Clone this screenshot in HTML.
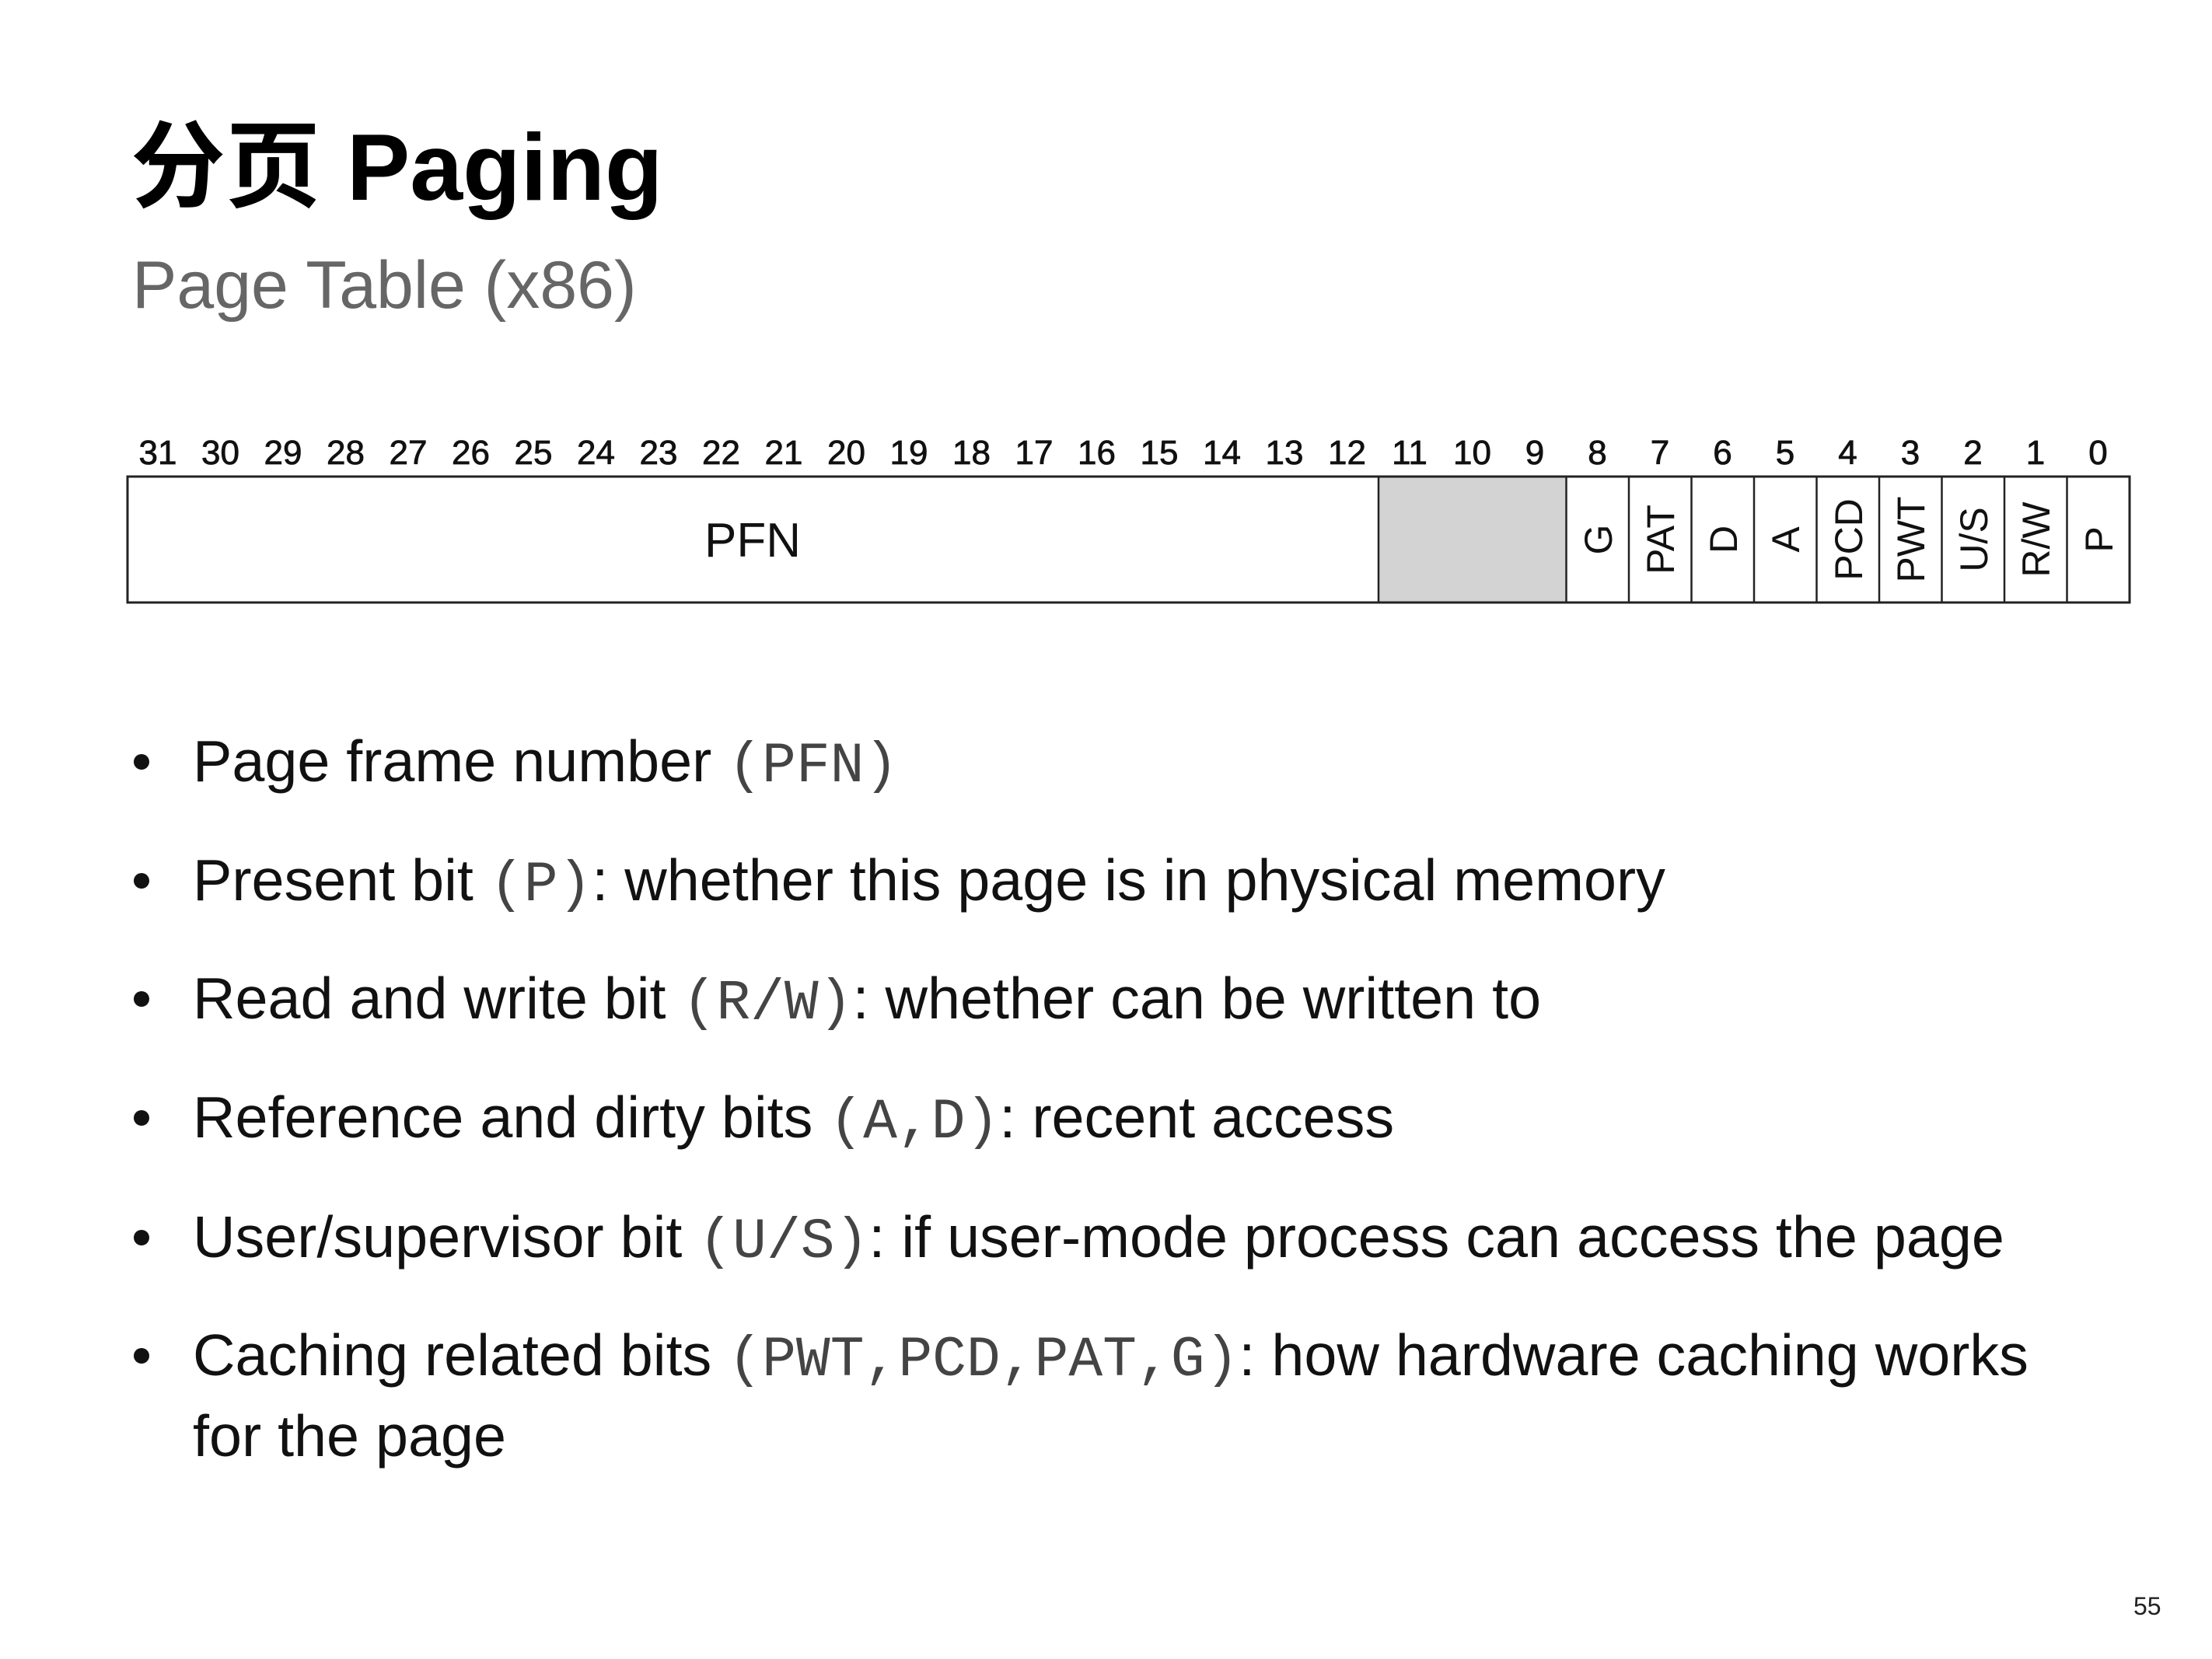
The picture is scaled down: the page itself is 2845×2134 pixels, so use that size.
<!DOCTYPE html>
<html><head><meta charset="utf-8"><style>
html,body{margin:0;padding:0;background:#fff;}
body{width:2845px;height:2134px;position:relative;overflow:hidden;font-family:"Liberation Sans","Noto Sans CJK SC",sans-serif;}
.t{position:absolute;white-space:nowrap;}
.b{position:absolute;left:248px;font-size:75.5px;color:#111;white-space:nowrap;line-height:1;}
.b code{font-family:"Liberation Mono",monospace;color:#444;font-size:73px;}
.dot{position:absolute;left:172px;width:20px;height:20px;border-radius:50%;background:#111;}
</style></head><body>
<div class="t" style="left:168px;top:116px;font-size:122px;font-weight:bold;color:#000;">分页 Paging</div>
<div class="t" style="left:170px;top:318px;font-size:86px;color:#666;">Page Table (x86)</div>
<svg style="position:absolute;left:0;top:0" width="2845" height="900" font-family="Liberation Sans, sans-serif">
<g font-size="44" text-anchor="middle" fill="#111" stroke="#111" stroke-width="0.8">
<text x="203" y="597">31</text><text x="283.5" y="597">30</text><text x="364" y="597">29</text><text x="444.5" y="597">28</text><text x="525" y="597">27</text><text x="605.5" y="597">26</text><text x="686" y="597">25</text><text x="766.5" y="597">24</text><text x="847" y="597">23</text><text x="927.5" y="597">22</text><text x="1008" y="597">21</text><text x="1088.5" y="597">20</text><text x="1169" y="597">19</text><text x="1249.5" y="597">18</text><text x="1330" y="597">17</text><text x="1410.5" y="597">16</text><text x="1491" y="597">15</text><text x="1571.5" y="597">14</text><text x="1652" y="597">13</text><text x="1732.5" y="597">12</text><text x="1813" y="597">11</text><text x="1893.5" y="597">10</text><text x="1974" y="597">9</text><text x="2054.5" y="597">8</text><text x="2135" y="597">7</text><text x="2215.5" y="597">6</text><text x="2296" y="597">5</text><text x="2376.5" y="597">4</text><text x="2457" y="597">3</text><text x="2537.5" y="597">2</text><text x="2618" y="597">1</text><text x="2698.5" y="597">0</text>
</g>
<rect x="1773" y="613" width="241.5" height="162" fill="#d3d3d3"/>
<rect x="164" y="613" width="2575" height="162" fill="none" stroke="#222" stroke-width="3"/>
<g stroke="#222" stroke-width="2.5">
<line x1="1773" y1="613" x2="1773" y2="775"/><line x1="2014.5" y1="613" x2="2014.5" y2="775"/><line x1="2095" y1="613" x2="2095" y2="775"/><line x1="2175.5" y1="613" x2="2175.5" y2="775"/><line x1="2256" y1="613" x2="2256" y2="775"/><line x1="2336.5" y1="613" x2="2336.5" y2="775"/><line x1="2417" y1="613" x2="2417" y2="775"/><line x1="2497.5" y1="613" x2="2497.5" y2="775"/><line x1="2578" y1="613" x2="2578" y2="775"/><line x1="2658.5" y1="613" x2="2658.5" y2="775"/>
</g>
<text x="968" y="716" font-size="62" text-anchor="middle" fill="#111">PFN</text>
<g font-size="50" text-anchor="middle" fill="#111">
<text transform="translate(2073,694) rotate(-90)">G</text>
<text transform="translate(2153,694) rotate(-90)">PAT</text>
<text transform="translate(2234,694) rotate(-90)">D</text>
<text transform="translate(2314,694) rotate(-90)">A</text>
<text transform="translate(2395,694) rotate(-90)">PCD</text>
<text transform="translate(2475,694) rotate(-90)">PWT</text>
<text transform="translate(2556,694) rotate(-90)">U/S</text>
<text transform="translate(2636,694) rotate(-90)">R/W</text>
<text transform="translate(2717,694) rotate(-90)">P</text>
</g>
</svg>
<div class="dot" style="top:970px"></div><div class="b" style="top:942px">Page frame number <code>(PFN)</code></div>
<div class="dot" style="top:1123px"></div><div class="b" style="top:1095px">Present bit <code>(P)</code>: whether this page is in physical memory</div>
<div class="dot" style="top:1275px"></div><div class="b" style="top:1247px">Read and write bit <code>(R/W)</code>: whether can be written to</div>
<div class="dot" style="top:1428px"></div><div class="b" style="top:1400px">Reference and dirty bits <code>(A,D)</code>: recent access</div>
<div class="dot" style="top:1582px"></div><div class="b" style="top:1554px">User/supervisor bit <code>(U/S)</code>: if user-mode process can access the page</div>
<div class="dot" style="top:1734px"></div><div class="b" style="top:1706px">Caching related bits <code>(PWT,PCD,PAT,G)</code>: how hardware caching works</div>
<div class="b" style="top:1810px">for the page</div>
<div class="t" style="left:2744px;top:2048px;font-size:32px;color:#222;">55</div>
</body></html>
